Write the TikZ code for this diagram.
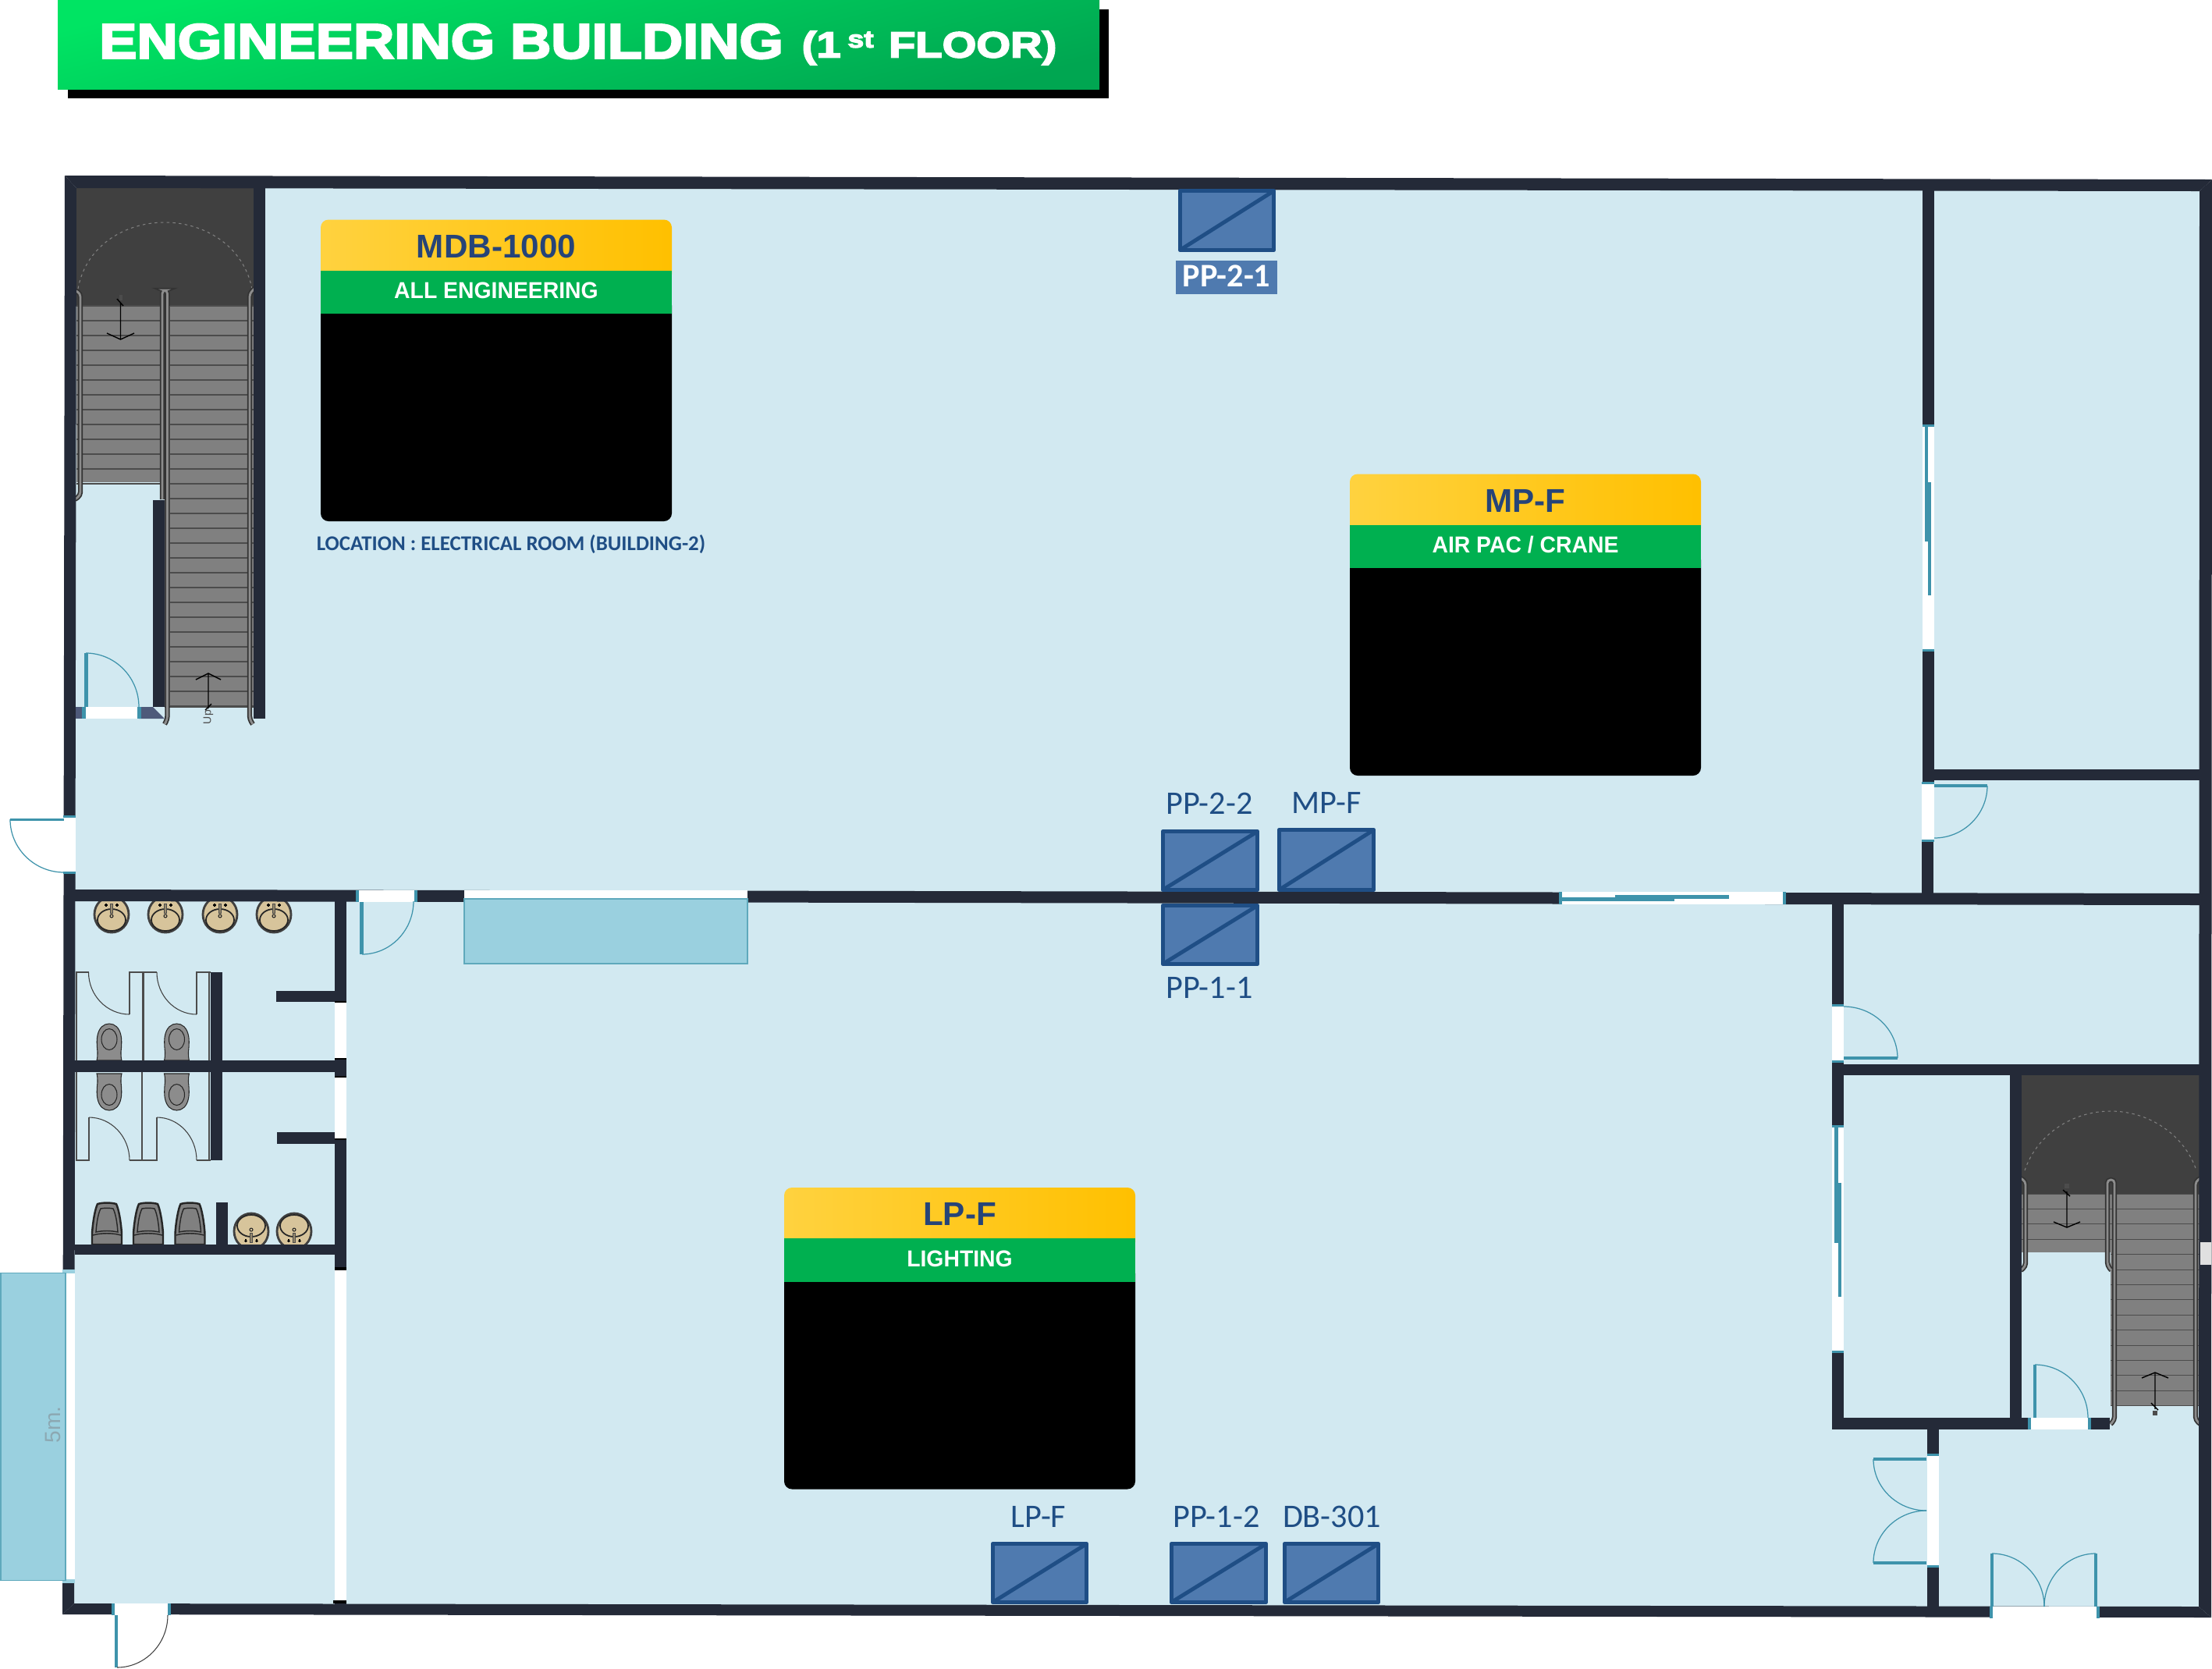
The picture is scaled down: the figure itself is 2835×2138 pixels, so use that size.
\documentclass[tikz,border=0pt]{standalone}
\usepackage{fontspec}
\usetikzlibrary{calc}
\setmainfont{Liberation Sans}
\newfontfamily\libfont{Liberation Sans}
\newfontfamily\semifont{Liberation Sans}[BoldFeatures={FakeStretch=0.96}]
\newfontfamily\carl{Carlito}
\newfontfamily\ttlfont{Liberation Sans}[BoldFeatures={FakeStretch=1.15,FakeBold=4}]
\newfontfamily\ttlfontb{Liberation Sans}[BoldFeatures={FakeStretch=1.21,FakeBold=4}]
\newcommand\fs[1]{\fontsize{#1}{#1}\selectfont}
\definecolor{wallc}{HTML}{242A38}
\definecolor{floorc}{HTML}{D2E9F1}
\definecolor{tealc}{HTML}{3E93AB}
\definecolor{canopy}{HTML}{9AD0DF}
\definecolor{canopye}{HTML}{5FA9BC}
\definecolor{ppfill}{HTML}{4F7AAF}
\definecolor{ppline}{HTML}{1F4E85}
\definecolor{titleblue}{HTML}{264478}
\definecolor{slate}{HTML}{4E5A7A}
\definecolor{tan}{HTML}{D7C49B}
\definecolor{ylA}{HTML}{FFD23F}
\definecolor{ylB}{HTML}{FFC000}
\definecolor{grnA}{HTML}{00E463}
\definecolor{grnB}{HTML}{00A651}
\definecolor{grnC}{HTML}{00B050}
\tikzset{
  x=0.01cm,y=-0.01cm,
  wall/.style={fill=wallc},
  swing/.style={draw=tealc,line width=0.35pt},
  swingk/.style={draw=black!75,line width=0.3pt},
  tread/.style={draw=black!70,line width=0.3pt},
  lab/.style={inner sep=0pt,anchor=base},
  pplab/.style={lab,text=ppline,font=\carl\fs{12}},
  ppbox/.style={draw=ppline,fill=ppfill,line width=1.6pt,line join=round},
  ppdiag/.style={draw=ppline,line width=1.4pt},
  railo/.style={draw=black!80,line width=1.8pt,rounded corners=1.2pt},
  raili/.style={draw=black!45,line width=0.8pt,rounded corners=1.2pt},
  arw/.style={draw=black,line width=0.4pt},
}
\newcommand\arcVH[5][swing]{\draw[#1] (#2,#3) .. controls ($(#2,#3)!.55!(#2,#5)$) and ($(#4,#5)!.55!(#2,#5)$) .. (#4,#5);}
\newcommand\arcHV[5][swing]{\draw[#1] (#2,#3) .. controls ($(#2,#3)!.55!(#4,#3)$) and ($(#4,#5)!.55!(#4,#3)$) .. (#4,#5);}
\newcommand\rect[5][wall]{\fill[#1] (#2,#3) rectangle (#4,#5);}
\newcommand\railp[1]{\draw[railo] #1; \draw[raili] #1;}
\newcommand\gapV[5][tealc]{\fill[white] (#2,#4) rectangle (#3,#5);
  \fill[#1] (#2,#4-2) rectangle (#3,#4+1); \fill[#1] (#2,#5-1) rectangle (#3,#5+2);}
\newcommand\gapH[5][tealc]{\fill[white] (#2,#4) rectangle (#3,#5);
  \fill[#1] (#2-2,#4) rectangle (#2+2,#5); \fill[#1] (#3-2,#4) rectangle (#3+2,#5);}
\newcommand\sink[3]{\begin{scope}[shift={(#1,#2)},yscale=#3]
  \draw[fill=tan,draw=black!75,line width=0.8pt] (0,17) ellipse (22 and 23);
  \draw[draw=black!85,line width=0.5pt] (0,24) ellipse (18 and 14);
  \draw[fill=tan!70!black,draw=black!70,line width=0.25pt] (-1.5,3) rectangle (1.5,15);
  \draw[draw=black!85,line width=0.3pt] (0,19) circle (2);
  \draw[black,line width=0.3pt] (-9,5) -- (-5,5) (-7,3) -- (-7,7) (5,5) -- (9,5) (7,3) -- (7,7);
\end{scope}}
\newcommand\toilet[3]{\begin{scope}[shift={(#1,#2)},yscale=#3]
  \draw[fill=black!45,draw=black!85,line width=0.3pt] (-16,0) .. controls (-15,3) and (-15,7) .. (-15,11)
    .. controls (-16,20) and (-16,28) .. (-15,32) .. controls (-13,42) and (-7,47) .. (0,47)
    .. controls (7,47) and (13,42) .. (15,32) .. controls (16,28) and (16,20) .. (15,11)
    .. controls (15,7) and (15,3) .. (16,0) -- cycle;
  \draw[draw=black!85,line width=0.3pt] (0,27) ellipse (10 and 13.5);
\end{scope}}
\newcommand\urinal[2]{\begin{scope}[shift={(#1,#2)},yscale=-1]
  \draw[fill=black!50,draw=black!85,line width=0.7pt] (-19,0) -- (-19,14) .. controls (-18,30) and (-15,46) .. (-12,52)
    .. controls (-5,54) and (5,54) .. (12,52) .. controls (15,46) and (18,30) .. (19,14) -- (19,0) -- cycle;
  \draw[draw=black!85,line width=0.4pt] (-18,12) .. controls (-8,15) and (8,15) .. (18,12);
  \draw[draw=black!85,line width=0.4pt] (-14,16) .. controls (-5,18) and (5,18) .. (14,16) .. controls (13,30) and (11,40) .. (8,46)
    .. controls (3,47) and (-3,47) .. (-8,46) .. controls (-11,40) and (-13,30) .. (-14,16) -- cycle;
\end{scope}}
\newcommand\panel[5]{%
  \shade[left color=ylA,right color=ylB,rounded corners=0.1cm] (#2,#3) rectangle (#2+450,#3+80);
  \fill[black,rounded corners=0.1cm] (#2,#3+100) rectangle (#2+450,#3+386.5);
  \fill[grnC] (#2,#3+65) rectangle (#2+450,#3+120.5);
  \node[lab,text=titleblue,font=\libfont\bfseries\fs{12}] (#1t) at (#2+225,#3+48.5) {#4};
  \node[lab,text=white,font=\semifont\bfseries\fs{8.4}] (#1s) at (#2+225,#3+101) {#5};
}
\newcommand\pp[5]{\draw[ppbox] (#2+2.5,#3+2.5) rectangle (#4-2.5,#5-2.5);
  \draw[ppdiag] (#2+3,#5-3) -- (#4-3,#3+3);}
\begin{document}
\begin{tikzpicture}
\useasboundingbox (0,0) rectangle (2835,2138);
\fill[white] (0,0) rectangle (2835,2138);
% title
\fill[black] (87,12) rectangle (1421,126);
\shade[top color=grnA,bottom color=grnB,shading angle=14] (74,0) rectangle (1409,114);
\node[lab,anchor=base west,text=white,font=\ttlfont\bfseries\fs{17.9}] (ttl) at (126.5,74.7) {ENGINEERING BUILDING};
\node[lab,anchor=base west,text=white,font=\ttlfontb\bfseries\fs{13.2}] (ttl2) at (1027,73.5) {(1\hspace{2.5pt}\raisebox{3.6pt}{\fs{8.8}st}\hspace{5.5pt}FLOOR)};
% floor
\fill[floorc] (90,232) -- (2828,238) -- (2826,2066) -- (88,2062) -- cycle;
% left stair
\fill[black!75] (98,241) rectangle (325,392);
\draw[black!50,dashed,dash pattern=on 1pt off 1.2pt,line width=0.3pt] (100,370) .. controls (110,315) and (160,285) .. (211,285) .. controls (262,285) and (312,315) .. (323,370);
\fill[black!50] (98,392) rectangle (211,618);
\fill[black!50] (211,392) rectangle (325,906);
\foreach \k in {0,...,27} {\draw[tread] (218,392+19*\k) -- (325,392+19*\k);}
\foreach \k in {0,...,12} {\draw[tread] (98,392+19*\k) -- (211,392+19*\k);}
\draw[tread] (211,906) -- (325,906);
\railp{(92,370) -- (103,376) -- (103,635) -- (96,640)}
\railp{(208,640) -- (208,372) -- (214.5,372) -- (214.5,922) -- (211,928)}
\railp{(328,368) -- (320,376) -- (320,922) -- (324,928)}
\draw[arw] (154.5,388) -- (154.5,435) (137,427) -- (154.5,435) -- (172,427) (150,383) -- (158,392);
\fill[black!70] (152.5,378) rectangle (156.5,385);
\draw[arw] (267,908) -- (267,863) (251,871) -- (267,863) -- (283,871) (263,910) -- (271,902);
\node[lab,anchor=center,rotate=90,text=black!70,font=\libfont\fs{4}] (up1) at (267,919) {Up};
% right stair
\fill[black!75] (2591,1378) rectangle (2819,1530);
\draw[black!50,dashed,dash pattern=on 1pt off 1.2pt,line width=0.3pt] (2595,1500) .. controls (2610,1455) and (2655,1424) .. (2705,1424) .. controls (2755,1424) and (2800,1455) .. (2815,1500);
\fill[black!50] (2591,1530) rectangle (2705,1605);
\fill[black!50] (2705,1530) rectangle (2819,1802);
\foreach \k in {0,...,3} {\draw[tread] (2591,1530+19.4*\k) -- (2705,1530+19.4*\k);}
\foreach \k in {0,...,14} {\draw[tread] (2705,1530+19.4*\k) -- (2819,1530+19.4*\k);}
\railp{(2588,1509) -- (2596,1514) -- (2596,1623) -- (2590,1628)}
\railp{(2706,1628) -- (2701,1622) -- (2701,1512) -- (2710,1512) -- (2710,1820) -- (2705,1825)}
\railp{(2822,1509) -- (2814,1514) -- (2814,1820) -- (2820,1825)}
\draw[arw] (2649,1527) -- (2649,1573) (2632,1566) -- (2649,1573) -- (2666,1566) (2644,1525) -- (2653,1533);
\fill[black!70] (2646,1517) rectangle (2652,1523);
\draw[arw] (2762,1806) -- (2762,1759) (2745,1766) -- (2762,1759) -- (2779,1766) (2757,1798) -- (2766,1807);
\fill[black!70] (2759,1808) rectangle (2765,1814);
% fixtures
\sink{143}{1155}{1}\sink{212}{1155}{1}\sink{282}{1155}{1}\sink{351}{1155}{1}
\sink{322}{1595}{-1}\sink{377}{1595}{-1}
\toilet{140}{1359}{-1}\toilet{226.5}{1359}{-1}
\toilet{140}{1376}{1}\toilet{226.5}{1376}{1}
\urinal{137}{1595}\urinal{190}{1595}\urinal{243.5}{1595}
% stall fronts
\draw[black!70,line width=0.6pt] (98,1359) -- (98,1246) -- (113.5,1246) (166,1300) -- (166,1246) -- (201,1246) (183.5,1246) -- (183.5,1359) (252,1300) -- (252,1246) -- (270,1246) (268,1246) -- (268,1359);
\draw[black!70,line width=0.6pt] (98,1374) -- (98,1487) -- (114,1487) -- (114,1432) (166,1487) -- (201,1487) -- (201,1432) (182,1374) -- (182,1487) (252,1487) -- (270,1487) (268,1374) -- (268,1487);
\arcVH[swingk]{113.5}{1246}{166}{1300}
\arcVH[swingk]{201}{1246}{252}{1300}
\arcHV[swingk]{114}{1432}{166}{1487}
\arcHV[swingk]{201}{1432}{252}{1487}
% outer walls
\fill[wall] (83,225) -- (2835,230) -- (2819,245) -- (98,241) -- cycle;
\fill[wall] (2835,230) -- (2834,2073) -- (2818,2059) -- (2819,245) -- cycle;
\fill[wall] (80,2069) -- (2834,2073) -- (2818,2059) -- (95,2055) -- cycle;
\fill[wall] (83,225) -- (98,241) -- (95,2055) -- (80,2069) -- cycle;
% mid wall
\fill[wall] (96,1140) -- (2820,1145) -- (2820,1160) -- (96,1155) -- cycle;
% interior walls
\rect{325}{240}{340}{921}
\rect{196}{641}{211}{906}
\rect{429}{1155}{444}{1286}
\rect{429}{1355}{444}{1382}
\rect{429}{1458}{444}{1627}
\rect{429}{2051}{444}{2058}
\rect{353.5}{1270}{429}{1284}
\rect{355}{1451}{429}{1466}
\rect{96}{1359}{429}{1374}
\rect{96}{1595}{429}{1608}
\rect{270}{1245.5}{285}{1487}
\rect{277}{1541}{292}{1595}
\rect{2464}{243}{2479}{546}
\rect{2464}{833}{2479}{1004}
\rect{2463}{1077}{2478}{1146}
\rect{2479}{986}{2820}{1000}
\rect{2348}{1158}{2363}{1289}
\rect{2348}{1360}{2363}{1444}
\rect{2348}{1732}{2363}{1832}
\rect{2363}{1364}{2820}{1378}
\rect{2348}{1817}{2601}{1832}
\rect{2678}{1817}{2704}{1832}
\rect{2576}{1378}{2591}{1817}
\rect{2470}{1832}{2485}{1865}
\rect{2470}{2007}{2485}{2060}
% black caps in the toilet wall
\rect[black]{429}{1283}{444}{1287}
\rect[black]{429}{1354}{444}{1358}
\rect[black]{429}{1379}{444}{1383}
\rect[black]{429}{1457}{444}{1461}
\rect[black]{429}{1624}{444}{1628}
\rect[black]{427}{2051}{444}{2055}
% openings
\fill[slate] (97,906) rectangle (108,921);
\fill[slate] (178,906) -- (196,906) -- (211,921) -- (178,921) -- cycle;
\rect[white]{108}{906}{178}{921}
\rect[tealc]{105}{906}{110}{921}
\rect[tealc]{176}{906}{181}{921}
\gapV{81}{97}{1047}{1118}
\gapH{458}{533}{1141}{1156}
\gapV[white]{429}{444}{1287}{1354}
\gapV[white]{429}{444}{1383}{1457}
\rect[white]{429}{1628}{444}{2051}
\rect[white]{82}{1632}{96}{2024}
\rect[canopy]{80}{1627}{96}{1632}
\rect[canopy]{80}{2024}{96}{2029}
\gapH{145}{217}{2055}{2070}
\gapH{2552}{2689}{2059}{2074}
\gapV{2464}{2479}{546}{833}
\gapV{2463}{2479}{1004}{1077}
\gapV{2348}{2363}{1289}{1360}
\gapV{2348}{2363}{1444}{1732}
\gapH{2601}{2678}{1817}{1832}
\gapV{2470}{2485}{1865}{2007}
\gapH{2000}{2287}{1143}{1159}
% sliding panes
\rect[tealc]{2000}{1150}{2146}{1155}
\rect[tealc]{2070}{1147}{2216}{1152}
\rect[tealc]{2467}{546}{2471}{694}
\rect[tealc]{2471}{618}{2475}{763}
\rect[tealc]{2351}{1444}{2356}{1593}
\rect[tealc]{2355.5}{1516}{2360}{1662}
% door leaves
\rect[tealc]{13}{1048.5}{82}{1052}
\rect[tealc]{461}{1156}{466}{1223}
\rect[tealc]{108}{837}{113}{906}
\rect[tealc]{146.5}{2070}{150.5}{2137}
\rect[tealc]{2479}{1005}{2547}{1009}
\rect[tealc]{2363}{1354}{2432}{1358}
\rect[tealc]{2606}{1749}{2610}{1817}
\rect[tealc]{2401}{1868}{2469}{1872}
\rect[tealc]{2401}{2001}{2469}{2005}
\rect[tealc]{2551}{1991}{2555}{2059}
\rect[tealc]{2684}{1991}{2688}{2059}
% door swings
\arcVH{13}{1050}{82}{1118}
\arcHV{464}{1223}{530}{1155}
\arcHV{110}{837}{178}{906}
\arcHV[swingk]{150}{2137}{215}{2070}
\arcVH{2547}{1007}{2479}{1074}
\arcVH{2432}{1356}{2363}{1290}
\arcHV{2608}{1749}{2676}{1817}
\arcVH{2401}{1870}{2469}{1936}
\arcVH{2401}{2003}{2469}{1936}
\arcHV{2553}{1991}{2620}{2059}
\arcHV{2686}{1991}{2620}{2059}
% canopies
\rect[white]{595}{1141}{958}{1152}
\draw[fill=canopy,draw=canopye,line width=0.3pt] (595,1152) rectangle (958,1235);
\draw[fill=canopy,draw=canopye,line width=0.3pt] (1,1631) rectangle (84,2025);
\node[lab,anchor=center,rotate=90,text={rgb,255:red,140;green,168;blue,178},font=\libfont\fs{8}] (bal) at (68,1826) {5m.};
% gray box
\fill[black!12] (2820,1592) rectangle (2834,1621);
% panels
\panel{mdb}{411}{281.5}{MDB-1000}{ALL ENGINEERING}
\panel{mpf}{1730}{607.5}{MP-F}{AIR PAC / CRANE}
\panel{lpf}{1005}{1522}{LP-F}{LIGHTING}
\node[lab,text=ppline,font=\carl\bfseries\fs{7.65}] (loc) at (655,705) {LOCATION : ELECTRICAL ROOM (BUILDING-2)};
% panel boards
\pp{a}{1510}{242}{1635}{323}
\fill[ppfill] (1507,334) rectangle (1637,377);
\node[lab,text=white,font=\carl\bfseries\fs{12}] (pp21) at (1572,367) {PP-2-1};
\pp{b}{1488}{1063}{1614}{1143}
\pp{c}{1637}{1061}{1763}{1143}
\pp{d}{1488}{1158}{1614}{1238}
\pp{e}{1270}{1976}{1395}{2056}
\pp{f}{1499}{1976}{1625}{2056}
\pp{g}{1644}{1976}{1769}{2056}
\node[pplab] (pp22) at (1550,1043) {PP-2-2};
\node[pplab] (mpl) at (1700,1042) {MP-F};
\node[pplab] (pp11) at (1550,1279) {PP-1-1};
\node[pplab] (lpl) at (1331,1957) {LP-F};
\node[pplab] (pp12) at (1559,1957) {PP-1-2};
\node[pplab] (db) at (1707,1957) {DB-301};
\end{tikzpicture}
\end{document}
